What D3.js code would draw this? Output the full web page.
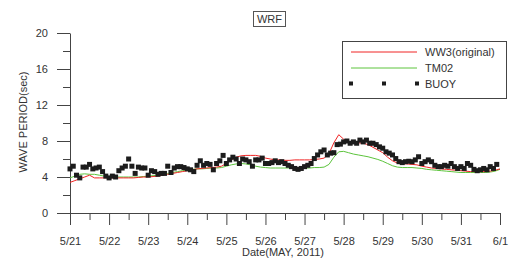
<!DOCTYPE html>
<html>
<head>
<meta charset="utf-8">
<script src="https://cdn.jsdelivr.net/npm/d3@7"></script>
<style>
  body { margin: 0; background: #fff; }
  text { font-family: "Liberation Sans", Arial, sans-serif; fill: #333; }
</style>
</head>
<body>
<svg id="chart" width="513" height="260"></svg>
<script>
// buoy: one sample every 2 hours from 5/21 00:00
const buoyStepHours = 2;
const buoy = [
  4.9, 5.2, 4.2, 3.9, 5.1, 5.1, 5.4, 4.9, 5.0, 5.1, 4.6, 4.1,
  3.9, 4.1, 4.0, 4.7, 5.0, 5.2, 6.0, 5.2, 4.4, 5.1, 5.0, 5.0,
  4.2, 4.7, 4.6, 4.3, 4.4, 4.4, 5.2, 4.5, 5.0, 5.15, 5.15, 5.05,
  4.9, 4.8, 4.6, 5.3, 5.8, 5.3, 5.5, 5.4, 4.8, 5.5, 5.8, 6.4,
  5.5, 5.9, 6.2, 6.0, 5.5, 6.0, 5.9, 5.7, 5.2, 5.9, 5.9, 6.1,
  5.5, 5.5, 5.6, 5.8, 5.6, 5.7, 5.5, 5.3, 5.15, 4.95, 4.85, 4.95,
  5.15, 5.3, 5.5, 6.05, 6.45, 6.8, 7.0, 6.45, 6.65, 6.7, 7.6, 7.65,
  7.9, 8.0, 7.75, 7.9, 7.75, 8.1, 7.9, 8.1, 7.75, 7.75, 7.6, 7.35,
  7.2, 6.8, 6.65, 6.45, 6.05, 5.7, 5.6, 5.7, 5.75, 5.7, 5.9, 6.25,
  5.5, 5.7, 5.9, 5.7, 5.3, 5.15, 5.15, 5.3, 5.2, 5.5, 5.15, 4.95,
  5.15, 4.95, 5.5, 5.3, 4.85, 4.7, 4.8, 4.95, 4.8, 5.15, 4.95, 5.4
];

// model output: one value every 3 hours from 5/21 00:00
const modelStepHours = 3;
const ww3 = [
  3.4, 3.6, 3.8, 4.0, 4.2, 3.9, 3.9, 3.9,
  3.9, 3.9, 3.9, 3.9, 3.9, 3.9, 3.95, 4.0,
  4.0, 4.05, 4.1, 4.2, 4.3, 4.4, 4.5, 4.6,
  4.7, 4.8, 4.9, 4.95, 5.0, 5.05, 5.1, 5.2,
  5.5, 5.9, 6.2, 6.35, 6.4, 6.4, 6.4, 6.3,
  6.1, 6.0, 5.9, 5.9, 5.85, 5.85, 5.9, 5.9,
  5.9, 5.9, 5.95, 6.0, 6.1, 6.6, 7.8, 8.7,
  8.2, 7.9, 7.85, 7.8, 7.75, 7.6, 7.3, 7.0,
  6.7, 6.2, 5.8, 5.55, 5.5, 5.45, 5.4, 5.35,
  5.2, 5.1, 5.0, 4.95, 4.9, 4.85, 4.8, 4.75,
  4.7, 4.65, 4.6, 4.6, 4.6, 4.6, 4.65, 4.75,
  4.9
];
const tm02 = [
  3.9, 4.1, 4.3, 4.35, 4.3, 4.3, 4.2, 4.1,
  4.05, 4.0, 4.0, 4.0, 4.0, 4.0, 4.0, 4.05,
  4.1, 4.15, 4.2, 4.3, 4.4, 4.5, 4.6, 4.7,
  4.8, 4.85, 4.9, 4.9, 4.95, 5.0, 5.0, 5.05,
  5.2, 5.35, 5.45, 5.5, 5.45, 5.35, 5.2, 5.1,
  5.05, 5.0, 5.0, 5.0, 5.0, 5.0, 5.0, 5.0,
  5.0, 5.0, 5.05, 5.05, 5.1, 5.4, 6.2, 6.8,
  6.85, 6.7, 6.55, 6.45, 6.35, 6.25, 6.1, 5.95,
  5.75, 5.5, 5.25, 5.1, 5.05, 5.05, 5.05, 5.0,
  4.95, 4.85, 4.8, 4.75, 4.7, 4.65, 4.6, 4.55,
  4.5, 4.5, 4.5, 4.5, 4.5, 4.5, 4.55, 4.65,
  4.85
];

const dayLabels = ["5/21", "5/22", "5/23", "5/24", "5/25", "5/26", "5/27", "5/28", "5/29", "5/30", "5/31", "6/1"];
const yMajorTicks = [0, 4, 8, 12, 16, 20];
const legendNames = ["WW3(original)", "TM02", "BUOY"];

const start = Date.UTC(2011, 4, 21);
const hour = 3600 * 1000;
const atHour = (step) => (v, i) => ({ t: new Date(start + i * step * hour), v: v });

const svg = d3.select("#chart");

let x = d3.scaleUtc()
    .domain([new Date(start), new Date(start + 11 * 24 * hour)])
    .range([70, 500]);
let y = d3.scaleLinear().domain([0, 20]).range([213, 33]);

let dayTicks = dayLabels.map((d, i) => new Date(start + i * 24 * hour));
let halfDayTicks = d3.range(11).map(i => new Date(start + (i + 0.5) * 24 * hour));

// x axis: major (labelled) + minor ticks
svg.append("g")
    .attr("transform", "translate(0,213)")
    .call(d3.axisBottom(x).tickValues(halfDayTicks).tickSize(7).tickFormat("").tickSizeOuter(0))
    .call(g => g.select(".domain").remove());
svg.append("g")
    .attr("transform", "translate(0,213)")
    .call(d3.axisBottom(x).tickValues(dayTicks).tickSize(12).tickPadding(12).tickSizeOuter(0)
        .tickFormat((d, i) => dayLabels[i]));

// y axis
svg.append("g")
    .attr("transform", "translate(70,0)")
    .call(d3.axisLeft(y).tickValues(d3.range(2, 20, 4)).tickSize(7).tickFormat("").tickSizeOuter(0))
    .call(g => g.select(".domain").remove());
svg.append("g")
    .attr("transform", "translate(70,0)")
    .call(d3.axisLeft(y).tickValues(yMajorTicks).tickSize(13).tickPadding(9).tickSizeOuter(0));

svg.selectAll(".domain, .tick line").attr("stroke", "#444");
svg.selectAll(".tick text")
    .style("font-size", "11px")
    .style("font-family", "'Liberation Sans', Arial, sans-serif")
    .attr("fill", "#333");

// axis titles
svg.append("text")
    .attr("x", 283).attr("y", 256)
    .attr("text-anchor", "middle")
    .style("font-size", "11px")
    .text("Date(MAY, 2011)");
svg.append("text")
    .attr("transform", "translate(27,122) rotate(-90)")
    .attr("text-anchor", "middle")
    .style("font-size", "11px")
    .text("WAVE PERIOD(sec)");

// title in a box
svg.append("rect")
    .attr("x", 253.5).attr("y", 11.5).attr("width", 32).attr("height", 15)
    .attr("fill", "none").attr("stroke", "#555");
svg.append("text")
    .attr("x", 269.5).attr("y", 23)
    .attr("text-anchor", "middle")
    .style("font-size", "11px")
    .text("WRF");

// series
let line = d3.line().x(d => x(d.t)).y(d => y(d.v));

svg.append("path")
    .datum(tm02.map(atHour(modelStepHours)))
    .attr("fill", "none")
    .attr("stroke", "#5cc43c")
    .attr("stroke-width", 1)
    .attr("d", line);
svg.append("path")
    .datum(ww3.map(atHour(modelStepHours)))
    .attr("fill", "none")
    .attr("stroke", "#f02424")
    .attr("stroke-width", 1)
    .attr("d", line);

svg.append("g")
    .selectAll("rect")
    .data(buoy.map(atHour(buoyStepHours)))
    .enter()
    .append("rect")
    .attr("x", d => x(d.t) - 2.5)
    .attr("y", d => y(d.v) - 2.5)
    .attr("width", 5)
    .attr("height", 5)
    .attr("fill", "#1c1c1c");

// legend
let legend = svg.append("g");
legend.append("rect")
    .attr("x", 342.5).attr("y", 41.5).attr("width", 164).attr("height", 57)
    .attr("fill", "#fff").attr("stroke", "#444");

let rowY = [52, 68, 83.5];
let colors = ["#f02424", "#5cc43c"];
colors.forEach((c, i) => {
    legend.append("line")
        .attr("x1", 351).attr("x2", 417)
        .attr("y1", rowY[i]).attr("y2", rowY[i])
        .attr("stroke", c).attr("stroke-width", 1);
});
legend.selectAll("rect.mk")
    .data([351, 384, 417])
    .enter()
    .append("rect")
    .attr("class", "mk")
    .attr("x", d => d - 2)
    .attr("y", rowY[2] - 2)
    .attr("width", 4).attr("height", 4)
    .attr("fill", "#1c1c1c");
legend.selectAll("text")
    .data(legendNames)
    .enter()
    .append("text")
    .attr("x", 425)
    .attr("y", (d, i) => rowY[i] + 4)
    .style("font-size", "11px")
    .text(d => d);
</script>
</body>
</html>
